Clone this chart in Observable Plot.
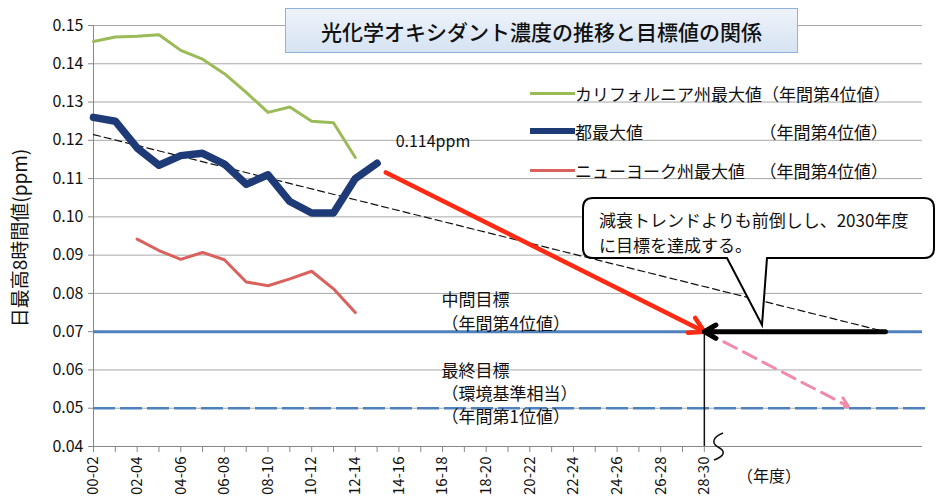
<!DOCTYPE html>
<html><head><meta charset="utf-8">
<script src="https://cdn.jsdelivr.net/npm/d3@7"></script>
<script src="https://cdn.jsdelivr.net/npm/@observablehq/plot@0.6"></script>
<style>
body{margin:0;background:#fff;font-family:"Noto Sans CJK JP","Noto Sans",sans-serif;}
#wrap{position:relative;width:937px;height:502px;overflow:hidden;background:#fff;}
#title{position:absolute;left:285px;top:8px;width:511px;height:43px;border:1.5px solid #8db3e2;
 background:linear-gradient(#eef3fa,#d6e3f2);display:flex;align-items:center;justify-content:center;
 font-size:21px;color:#111;font-weight:500;}
.lg{position:absolute;left:530px;width:358px;height:22px;display:flex;align-items:center;font-size:17px;color:#111;white-space:nowrap;}
.lg span{flex:none;}
.sw{width:45px;flex:none;}
.lg .r{margin-left:auto;}
#over{position:absolute;left:0;top:0;}
</style></head><body>
<div id="wrap"></div>
<script>
// x categories (3-year periods)
const periods = ["00-02","01-03","02-04","03-05","04-06","05-07","06-08","07-09","08-10","09-11",
  "10-12","11-13","12-14","13-15","14-16","15-17","16-18","17-19","18-20","19-21",
  "20-22","21-23","22-24","23-25","24-26","25-27","26-28","27-29","28-30"];
// series values, starting at 00-02
const tokyoValues = [0.126,0.125,0.118,0.1135,0.116,0.1166,0.1138,0.1085,0.111,0.104,0.101,0.101,0.110,0.114];
const californiaValues = [0.1458,0.147,0.1472,0.1476,0.1435,0.1412,0.1374,0.1325,0.1273,0.1287,0.125,0.1246,0.1155];
const newYorkValues = [null,null,0.0942,0.0912,0.0889,0.0907,0.0888,0.0830,0.0820,0.0838,0.0858,0.0812,0.0750];
const yTicks = [0.04,0.05,0.06,0.07,0.08,0.09,0.10,0.11,0.12,0.13,0.14,0.15];
const intermediateTarget = 0.07;
const finalTarget = 0.05;
const targetPeriod = "28-30";
// trend (dashed) : start / end in category index units
const trendX = [0, 36.3];
const trendY = [0.1215, 0.070];
// arrows
const redArrow = {x1: 13.4, y1: 0.1116, x2: 28, y2: 0.07};
const blackArrow = {x1: 36.3, y1: 0.07, x2: 28, y2: 0.07};
const pinkArrow = {x1: 28, y1: 0.07, x2: 34.6, y2: 0.0505};

const idx = p => periods.indexOf(p);
const toRows = vals => vals.map((v,i)=>({x:i, y:v})).filter(d=>d.y!=null);
const tokyo = toRows(tokyoValues), cal = toRows(californiaValues), ny = toRows(newYorkValues);
const trend = trendX.map((x,i)=>({x, y:trendY[i]}));
const FONT = '"Noto Sans CJK JP","Noto Sans",sans-serif';

const chart = Plot.plot({
  width: 937, height: 502,
  marginLeft: 93, marginRight: 15, marginTop: 25, marginBottom: 56,
  x: {domain: [0, 38], axis: null},
  y: {domain: [0.04, 0.15], axis: null},
  style: {fontFamily: FONT, background: "transparent", color: "#111"},
  marks: [
    Plot.ruleY(yTicks, {x1: 0, x2: 38, stroke: "#a8a8a8", strokeWidth: 1}),
    Plot.axisY({ticks: yTicks, tickFormat: d3.format(".2f"), tickSize: 5, tickPadding: 5, fontSize: 16, stroke: "#888", label: null}),
    Plot.axisX({ticks: d3.range(0, 29), tickFormat: i => i % 2 === 0 ? periods[i] : "", tickRotate: -90,
      tickSize: 6, tickPadding: 4, fontSize: 15, stroke: "#888", label: null}),
    Plot.ruleX([0], {y1: 0.04, y2: 0.15, stroke: "#888"}),
    Plot.ruleY([0.04], {x1: 0, x2: 38, stroke: "#888"}),
    Plot.ruleY([intermediateTarget], {x1: 0, x2: 38, stroke: "#4f81bd", strokeWidth: 3}),
    Plot.ruleY([finalTarget], {x1: 0, x2: 38.3, stroke: "#4f81bd", strokeWidth: 2.5, strokeDasharray: "22,5"}),
    Plot.line(trend, {x: "x", y: "y", stroke: "#111", strokeWidth: 1.2, strokeDasharray: "7,4"}),
    Plot.line(cal, {x: "x", y: "y", stroke: "#9bbb59", strokeWidth: 3}),
    Plot.line(ny, {x: "x", y: "y", stroke: "#d9625e", strokeWidth: 3}),
    Plot.line(tokyo, {x: "x", y: "y", stroke: "#1f3b77", strokeWidth: 7.5, strokeLinejoin: "round", strokeLinecap: "round"}),
    Plot.ruleX([idx(targetPeriod)], {y1: 0.04, y2: intermediateTarget, stroke: "#111", strokeWidth: 1.5}),
    Plot.arrow([redArrow], {x1: "x1", y1: "y1", x2: "x2", y2: "y2", stroke: "#ff2a12", strokeWidth: 4.5, headLength: 5.5}),
    Plot.arrow([pinkArrow], {x1: "x1", y1: "y1", x2: "x2", y2: "y2", stroke: "#f08caa", strokeWidth: 3, strokeDasharray: "14,8", headLength: 5}),
    Plot.arrow([blackArrow], {x1: "x1", y1: "y1", x2: "x2", y2: "y2", stroke: "#000", strokeWidth: 5, headLength: 4}),
    Plot.text(["0.114ppm"], {x: 13.85, y: 0.1195, textAnchor: "start", fontSize: 16}),
    Plot.text(["中間目標\n（年間第4位値）"], {x: 15.95, y: 0.0755, textAnchor: "start", fontSize: 17, lineHeight: 1.4}),
    Plot.text(["最終目標\n（環境基準相当）\n（年間第1位値）"], {x: 15.95, y: 0.0541, textAnchor: "start", fontSize: 17, lineHeight: 1.38}),
    Plot.text(["日最高8時間値(ppm)"], {frameAnchor: "left", textAnchor: "middle", dx: -73, dy: 2, rotate: -90, fontSize: 19})
  ]
});

const wrap = document.getElementById("wrap");
wrap.appendChild(chart);

const title = document.createElement("div");
title.id = "title";
title.textContent = "光化学オキシダント濃度の推移と目標値の関係";
wrap.appendChild(title);

const legendItems = [
  {name: "カリフォルニア州最大値", note: "（年間第4位値）", color: "#9bbb59", w: 3, top: 82},
  {name: "都最大値", note: "（年間第4位値）", color: "#1f3b77", w: 6, top: 120},
  {name: "ニューヨーク州最大値", note: "（年間第4位値）", color: "#d9625e", w: 3, top: 159}
];
for (const it of legendItems) {
  const row = document.createElement("div");
  row.className = "lg";
  row.style.top = it.top + "px";
  row.innerHTML = `<div class="sw" style="height:${it.w}px;background:${it.color}"></div><span>${it.name}</span><span class="r">${it.note}</span>`;
  wrap.appendChild(row);
}

const ns = "http://www.w3.org/2000/svg";
const over = document.createElementNS(ns, "svg");
over.setAttribute("id", "over");
over.setAttribute("width", 937); over.setAttribute("height", 502);
over.innerHTML = `
<path d="M593 198 H924 Q934 198 934 208 V248 Q934 258 924 258 H767 L762 325 L727 258 H593 Q583 258 583 248 V208 Q583 198 593 198 Z" fill="#fff" stroke="#000" stroke-width="2"/>
<text x="599" y="222" font-size="17" dominant-baseline="middle" font-family='${FONT}' fill="#111">減衰トレンドよりも前倒しし、2030年度</text>
<text x="599" y="247" font-size="17" dominant-baseline="middle" font-family='${FONT}' fill="#111">に目標を達成する。</text>
<path d="M723 433 C713 437 711 443 718 447 C726 451 725 456 714 460" fill="none" stroke="#111" stroke-width="1.5"/>
<text x="737" y="478" font-size="16" dominant-baseline="middle" font-family='${FONT}' fill="#111">（年度）</text>`;
wrap.appendChild(over);
</script>
</body></html>
